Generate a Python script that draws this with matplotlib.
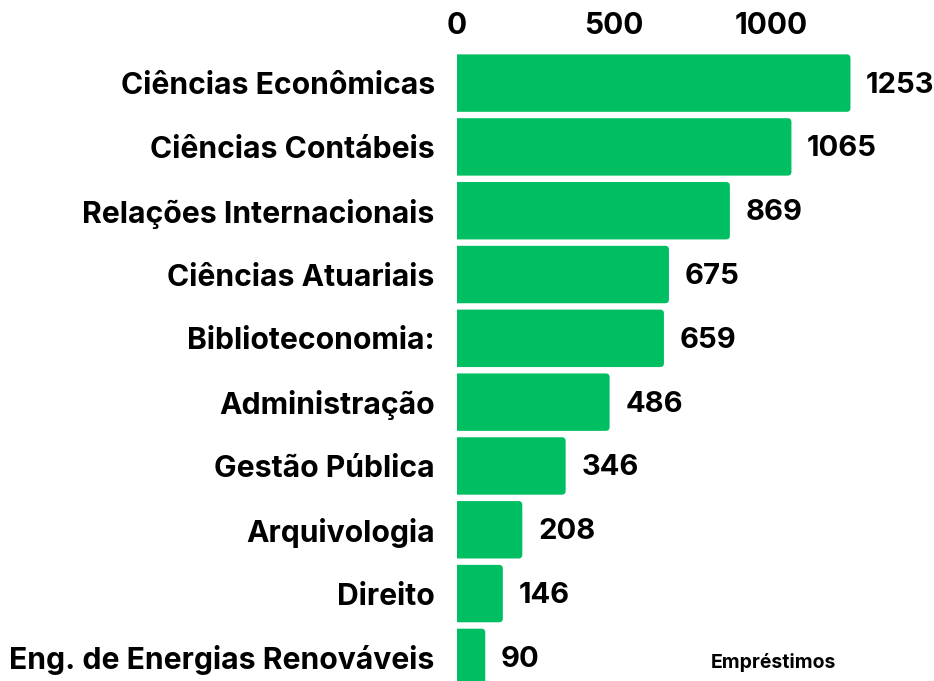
import matplotlib
matplotlib.use("Agg")
import matplotlib.pyplot as plt
from matplotlib.patches import FancyBboxPatch

cursos = ["Ciências Econômicas", "Ciências Contábeis", "Relações Internacionais",
          "Ciências Atuariais", "Biblioteconomia:", "Administração",
          "Gestão Pública", "Arquivologia", "Direito", "Eng. de Energias Renováveis"]
emprestimos = [1253, 1065, 869, 675, 659, 486, 346, 208, 146, 90]
ticks = [0, 500, 1000]

VERDE = "#00BF63"
plt.rcParams['font.family'] = ['Inter', 'DejaVu Sans']

fig = plt.figure(figsize=(9.34, 6.81), dpi=100)
ax = fig.add_axes([457 / 934, 0, 477 / 934, 633 / 681])

bars = ax.barh(range(len(cursos)), emprestimos, height=0.9, color=VERDE)
# troca as barras por retangulos com cantos arredondados
for b in bars:
    x, y = b.get_x(), b.get_y()
    w, h = b.get_width(), b.get_height()
    b.set_visible(False)
    p = FancyBboxPatch((x - 20, y), w + 20, h,
                       boxstyle="round,pad=0,rounding_size=12",
                       mutation_aspect=0.005, fc=VERDE, ec="none")
    ax.add_patch(p)

for i, v in enumerate(emprestimos):
    ax.text(v + 50, i + 0.03, str(v), va="center", ha="left",
            fontsize=21, fontweight="bold")

ax.set_xlim(0, 1519)
ax.set_ylim(9.37, -0.55)
ax.set_yticks(range(len(cursos)))
ax.set_yticklabels(cursos, fontsize=21.7, fontweight="bold")
ax.set_xticks(ticks)
ax.set_xticklabels([str(t) for t in ticks], fontsize=21.5, fontweight="bold")
ax.xaxis.tick_top()
ax.tick_params(length=0, axis="y", pad=16)
ax.tick_params(length=0, axis="x", pad=6)
for s in ax.spines.values():
    s.set_visible(False)

fig.text(773 / 934, 1 - 663 / 681, "Empréstimos", ha="center", va="center",
         fontsize=14, fontweight="bold")

fig.savefig("out.png", dpi=100)
